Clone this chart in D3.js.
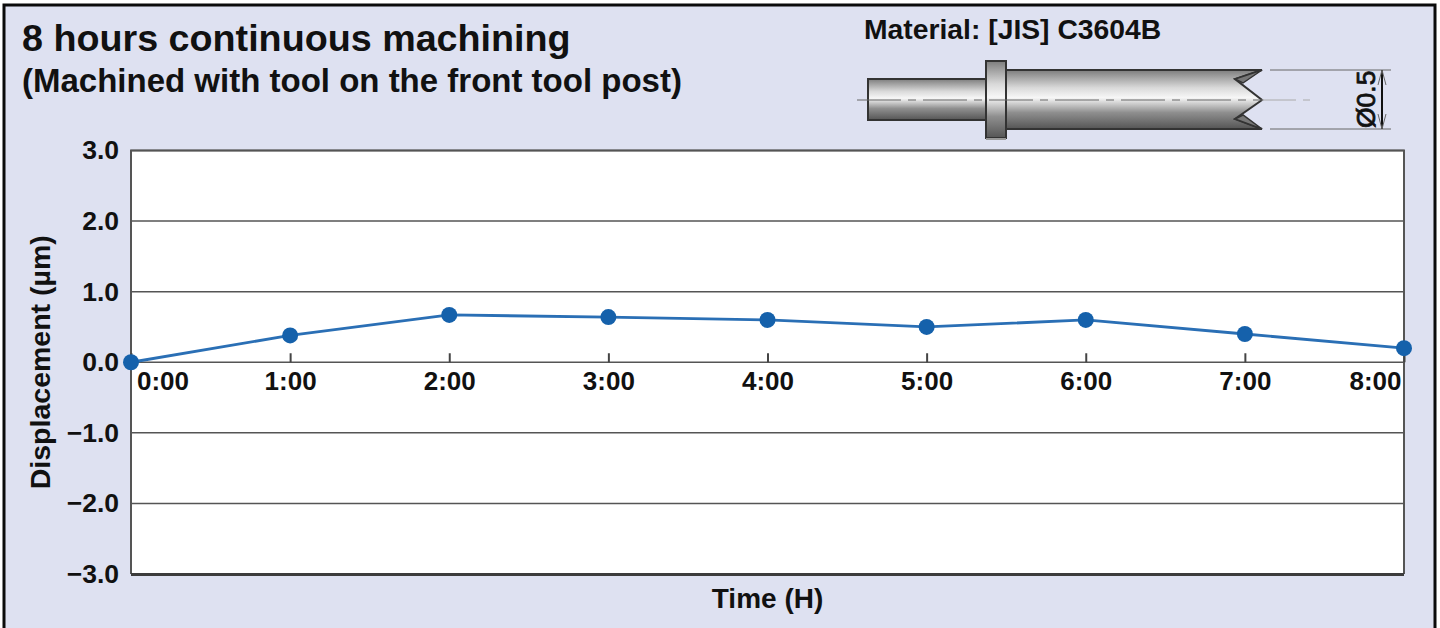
<!DOCTYPE html>
<html>
<head>
<meta charset="utf-8">
<script src="https://cdn.jsdelivr.net/npm/d3@7"></script>
<style>
  html, body { margin: 0; padding: 0; background: #fff; overflow: hidden; }
  svg { display: block; font-family: "Liberation Sans", Arial, sans-serif; font-weight: 700; fill: #111; }
</style>
</head>
<body>
<div id="chart"></div>
<script>
// Displacement over 8 hours of continuous machining
const hours = [0, 1, 2, 3, 4, 5, 6, 7, 8];
const hourLabels = ["0:00", "1:00", "2:00", "3:00", "4:00", "5:00", "6:00", "7:00", "8:00"];
const displacement = [0, 0.38, 0.67, 0.64, 0.6, 0.5, 0.6, 0.4, 0.2];
const yTicks = [-3, -2, -1, 0, 1, 2, 3];

const width = 1440, height = 628;
const plot = { left: 131, right: 1404, top: 150.5, bottom: 574 };

const svg = d3.select("#chart").append("svg")
  .attr("width", width).attr("height", height);

// Panel
svg.append("rect")
  .attr("x", 4).attr("y", 5).attr("width", 1431).attr("height", 640)
  .attr("fill", "#dee1f1").attr("stroke", "#0b0b0b").attr("stroke-width", 3);

// Titles
svg.append("text").attr("x", 22).attr("y", 51)
  .attr("font-size", 37.7).text("8 hours continuous machining");
svg.append("text").attr("x", 22).attr("y", 92)
  .attr("font-size", 33).text("(Machined with tool on the front tool post)");
svg.append("text").attr("x", 864).attr("y", 39)
  .attr("font-size", 28.3).text("Material: [JIS] C3604B");

// Workpiece drawing, top right
const defs = svg.append("defs");
const grad = defs.append("linearGradient").attr("id", "steel")
  .attr("x1", 0).attr("y1", 0).attr("x2", 0).attr("y2", 1);
[[0, "#7d7d7d"], [0.3, "#d9d9d9"], [0.47, "#f7f7f7"], [0.72, "#8f8f8f"], [1, "#555"]]
  .forEach(([o, c]) => grad.append("stop").attr("offset", o).attr("stop-color", c));

const part = svg.append("g").attr("stroke", "#333").attr("stroke-width", 2);
part.append("rect").attr("x", 868).attr("y", 79).attr("width", 119).attr("height", 41)
  .attr("fill", "url(#steel)");
part.append("path")
  .attr("d", "M1006,70H1262L1235,79L1262,100L1235,119L1262,129H1006Z")
  .attr("fill", "url(#steel)");
part.append("path").attr("d", "M1262,70L1235,79L1243,83Z M1262,129L1235,119L1243,115Z")
  .attr("fill", "#777").attr("stroke-width", 1.5);
part.append("rect").attr("x", 986).attr("y", 61).attr("width", 20).attr("height", 77)
  .attr("fill", "url(#steel)");
part.append("line").attr("x1", 986).attr("x2", 1006).attr("y1", 139).attr("y2", 139)
  .attr("stroke", "#999");

// Centre line: dashed across the part, lighter past the broken end
svg.append("line").attr("x1", 857).attr("x2", 1262).attr("y1", 100).attr("y2", 100)
  .attr("stroke", "#666").attr("stroke-width", 1).attr("stroke-dasharray", "44,7,8,7");
svg.append("path").attr("d", "M1262,100H1296 M1303,100H1310")
  .attr("stroke", "#aaa").attr("stroke-width", 1);

const dims = svg.append("g").attr("stroke", "#666").attr("stroke-width", 1).attr("fill", "none");
dims.append("path").attr("d", "M1270,70H1391 M1270,129H1391");
dims.append("path").attr("d", "M1382,70V129").attr("stroke", "#111").attr("stroke-width", 2);
dims.append("path").attr("d", "M1378,85L1382,70L1386,85 M1378,114L1382,129L1386,114");
svg.append("text")
  .attr("transform", "translate(1375,128) rotate(-90)")
  .attr("font-size", 26.5).attr("font-weight", 400).attr("stroke", "#111").attr("stroke-width", 0.8)
  .text("Ø0.5");

// Scales
const x = d3.scaleLinear().domain([0, 8]).range([plot.left, plot.right]);
const y = d3.scaleLinear().domain([-3, 3]).range([plot.bottom, plot.top]);

// Plot background
svg.append("rect")
  .attr("x", plot.left).attr("y", plot.top)
  .attr("width", plot.right - plot.left).attr("height", plot.bottom - plot.top)
  .attr("fill", "#fff");

// Gridlines
svg.append("g").selectAll("line").data(yTicks).join("line")
  .attr("x1", plot.left).attr("x2", plot.right)
  .attr("y1", d => y(d)).attr("y2", d => y(d))
  .attr("stroke", "#555").attr("stroke-width", 1.5);

// Frame
svg.append("path")
  .attr("d", `M${plot.left},${plot.bottom}V${plot.top}H${plot.right}V${plot.bottom}`)
  .attr("fill", "none").attr("stroke", "#555").attr("stroke-width", 2);
svg.append("line")
  .attr("x1", plot.left).attr("x2", plot.right)
  .attr("y1", plot.bottom + 0.5).attr("y2", plot.bottom + 0.5)
  .attr("stroke", "#3c3c3c").attr("stroke-width", 3);

// Y axis labels
const yAxis = d3.axisLeft(y).tickValues(yTicks).tickSize(0).tickPadding(12)
  .tickFormat(d => d3.format(".1f")(d).replace("-", "\u2212"));
const gY = svg.append("g").attr("transform", `translate(${plot.left},0)`).call(yAxis);
gY.select(".domain").remove();
gY.selectAll("text").attr("font-size", 26.5).attr("fill", "#111")
  .attr("font-family", "inherit").attr("font-weight", 700);

// X axis on the zero line, ticks pointing up and labels below
const xAxis = d3.axisTop(x).tickValues(hours).tickSize(9)
  .tickFormat(d => hourLabels[d]);
const gX = svg.append("g").attr("transform", `translate(0,${y(0)})`).call(xAxis);
gX.select(".domain").remove();
gX.selectAll("line").attr("stroke", "#444").attr("stroke-width", 2);
gX.selectAll("text")
  .attr("y", 27.5).attr("dy", 0)
  .attr("font-size", 26).attr("fill", "#111").attr("font-family", "inherit").attr("font-weight", 700)
  .attr("text-anchor", d => d === 0 ? "start" : d === 8 ? "end" : "middle")
  .attr("dx", d => d === 0 ? 5.5 : d === 8 ? -3 : 0);

// Axis titles
svg.append("text")
  .attr("x", (plot.left + plot.right) / 2).attr("y", 607.5)
  .attr("text-anchor", "middle").attr("font-size", 28).text("Time (H)");
svg.append("text")
  .attr("transform", `translate(50,${y(0)}) rotate(-90)`)
  .attr("text-anchor", "middle").attr("font-size", 28.5).text("Displacement (µm)");

// Series
const line = d3.line().x((d, i) => x(hours[i])).y(d => y(d));
svg.append("path").datum(displacement)
  .attr("d", line).attr("fill", "none")
  .attr("stroke", "#2a6fb5").attr("stroke-width", 2.8);
svg.append("g").selectAll("circle").data(displacement).join("circle")
  .attr("cx", (d, i) => x(hours[i])).attr("cy", d => y(d)).attr("r", 8)
  .attr("fill", "#1561ab");
</script>
</body>
</html>
